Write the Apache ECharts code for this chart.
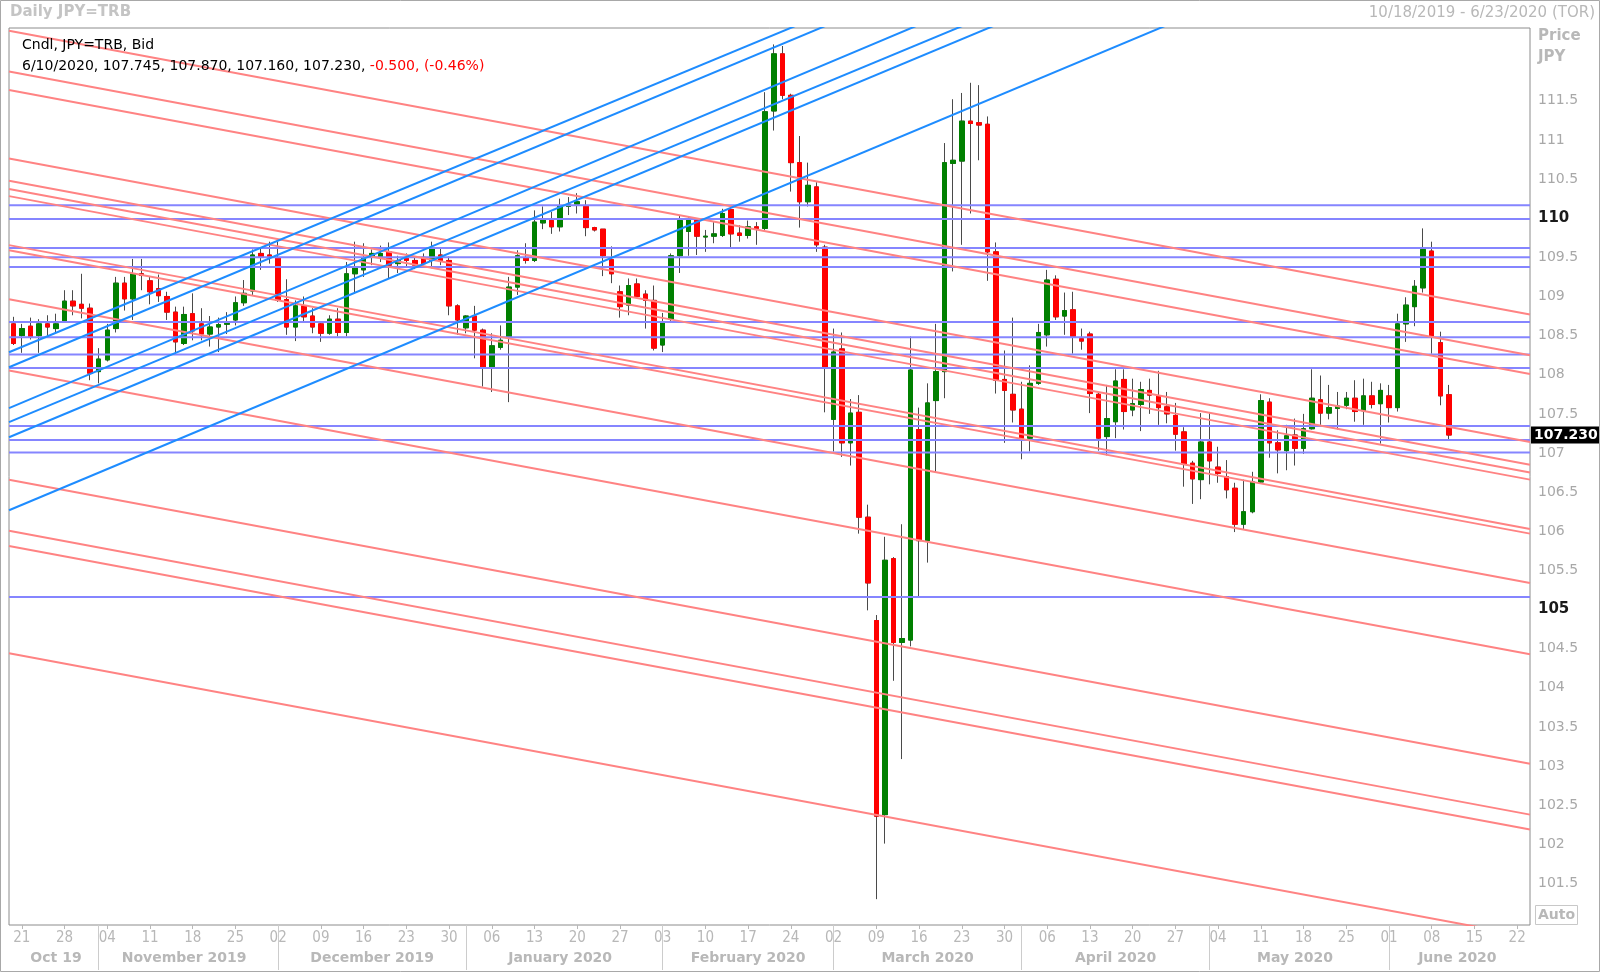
<!DOCTYPE html>
<html><head><meta charset="utf-8">
<script src="https://cdn.jsdelivr.net/npm/echarts/dist/echarts.min.js"></script>
<style>html,body{margin:0;padding:0;background:#fff}#c{width:1600px;height:972px}</style>
</head><body><div id="c"></div><script>
// ---- trading calendar (weekdays shown on the axis) ----
const calendar = [
 ['2019-10', [18,21,22,23,24,25,28,29,30,31]],
 ['2019-11', [1,4,5,6,7,8,11,12,13,14,15,18,19,20,21,22,25,26,27,28,29]],
 ['2019-12', [2,3,4,5,6,9,10,11,12,13,16,17,18,19,20,23,24,25,26,27,30,31]],
 ['2020-01', [1,2,3,6,7,8,9,10,13,14,15,16,17,20,21,22,23,24,27,28,29,30,31]],
 ['2020-02', [3,4,5,6,7,10,11,12,13,14,17,18,19,20,21,24,25,26,27,28]],
 ['2020-03', [2,3,4,5,6,9,10,11,12,13,16,17,18,19,20,23,24,25,26,27,30,31]],
 ['2020-04', [1,2,3,6,7,8,9,10,13,14,15,16,17,20,21,22,23,24,27,28,29,30]],
 ['2020-05', [1,4,5,6,7,8,11,12,13,14,15,18,19,20,21,22,25,26,27,28,29]],
 ['2020-06', [1,2,3,4,5,8,9,10,11,12,15,16,17,18,19,22,23]]
];
const monthNames = ['Oct 19','November 2019','December 2019','January 2020','February 2020','March 2020','April 2020','May 2020','June 2020'];

// ---- daily candles (USD/JPY) ----
const open = [108.65,108.50,108.62,108.50,108.65,108.59,108.69,108.94,108.90,108.85,
108.04,108.19,108.59,109.17,108.97,109.29,109.20,109.10,109.00,108.80,
108.40,108.78,108.65,108.52,108.61,108.645,108.70,108.92,109.07,109.55,
109.53,109.49,108.96,108.61,108.88,108.75,108.65,108.53,108.71,108.54,
109.29,109.34,109.50,109.51,109.57,109.42,109.50,109.46,109.50,109.46,
109.53,109.46,108.88,108.60,108.75,108.57,108.10,108.35,108.49,109.12,
109.49,109.46,109.94,109.97,109.89,110.15,110.18,110.15,109.88,109.86,
109.47,109.06,108.89,109.16,109.03,108.95,108.38,108.71,109.52,109.83,
109.98,109.76,109.77,109.78,110.11,109.81,109.78,109.89,109.87,111.37,
112.10,111.57,110.71,110.21,110.40,109.63,107.43,108.33,107.13,107.52,
106.18,104.86,102.38,105.65,104.58,104.61,107.30,105.88,107.67,108.04,
110.70,110.73,111.24,111.22,111.20,109.57,107.94,107.75,107.56,107.19,
107.89,108.51,109.22,108.75,108.83,108.46,108.52,107.75,107.21,107.40,
107.94,107.55,107.62,107.80,107.73,107.59,107.48,107.27,106.87,106.66,
107.14,106.82,106.70,106.55,106.09,106.25,106.63,107.65,107.13,107.03,
107.23,107.06,107.31,107.68,107.51,107.57,107.61,107.70,107.54,107.73,
107.63,107.73,107.58,108.65,108.87,109.11,109.58,108.41,107.745];
const close = [108.40,108.59,108.49,108.65,108.61,108.65,108.94,108.88,108.85,108.02,
108.20,108.57,109.17,108.97,109.29,109.27,109.06,109.01,108.80,108.42,
108.77,108.56,108.52,108.61,108.64,108.655,108.92,109.04,109.53,109.51,
109.50,108.95,108.61,108.88,108.74,108.61,108.53,108.71,108.54,109.29,
109.36,109.49,109.55,109.55,109.40,109.46,109.46,109.40,109.42,109.61,
109.46,108.88,108.70,108.75,108.57,108.10,108.37,108.44,109.12,109.52,
109.46,109.95,109.98,109.89,110.15,110.17,110.21,109.88,109.85,109.52,
109.29,108.87,109.14,109.00,108.95,108.34,108.68,109.52,109.97,109.98,
109.77,109.77,109.80,110.06,109.80,109.78,109.89,109.87,111.36,112.10,
111.57,110.71,110.21,110.42,109.66,108.10,108.29,107.13,107.51,106.18,
105.34,102.36,105.63,104.58,104.63,108.06,105.88,107.64,108.04,110.71,
110.74,111.24,111.21,111.19,109.57,107.93,107.80,107.55,107.19,107.89,
108.54,109.21,108.74,108.82,108.49,108.43,107.76,107.19,107.44,107.92,
107.53,107.63,107.81,107.74,107.58,107.50,107.24,106.86,106.67,107.14,
106.90,106.74,106.53,106.09,106.25,106.63,107.67,107.13,107.04,107.22,
107.06,107.31,107.70,107.51,107.58,107.60,107.70,107.53,107.73,107.62,
107.80,107.58,108.65,108.89,109.13,109.60,108.49,107.73,107.23];
const high = [108.74,108.65,108.73,108.71,108.76,108.78,109.08,109.08,109.29,108.91,
108.34,108.65,109.25,109.25,109.48,109.48,109.25,109.28,109.06,108.87,
108.87,109.04,108.85,108.75,108.73,108.80,109.00,109.21,109.60,109.61,
109.70,109.70,109.22,108.95,109.00,108.85,108.68,108.76,108.85,109.44,
109.70,109.68,109.60,109.65,109.69,109.52,109.55,109.50,109.55,109.70,
109.61,109.51,108.90,108.76,108.88,108.59,108.53,108.63,109.25,109.59,
109.68,110.10,110.15,110.08,110.25,110.27,110.32,110.23,109.89,109.86,
109.64,109.14,109.23,109.23,109.08,109.14,108.79,109.55,110.04,110.02,
110.00,109.85,109.95,110.12,110.15,109.91,109.97,109.95,111.61,112.22,
112.20,111.59,111.05,110.71,110.46,109.66,108.59,108.54,107.69,107.74,
106.34,104.93,105.93,105.67,106.09,108.49,107.58,107.89,108.65,110.96,
111.52,111.60,111.73,111.70,111.30,109.69,108.31,108.73,107.91,108.12,
108.65,109.34,109.27,109.05,109.06,108.59,108.55,107.78,107.87,108.07,
108.07,107.95,107.91,107.95,108.05,107.78,107.64,107.33,106.90,107.51,
107.51,107.08,106.91,106.62,106.66,106.76,107.75,107.70,107.29,107.36,
107.44,107.50,108.07,107.99,107.87,107.78,107.78,107.93,107.95,107.91,
107.89,107.87,108.78,108.99,109.21,109.87,109.70,108.55,107.87];
const low = [108.38,108.28,108.45,108.28,108.49,108.53,108.68,108.76,108.72,107.93,
107.89,108.17,108.54,108.82,108.70,109.08,108.90,108.93,108.70,108.27,
108.38,108.44,108.44,108.36,108.29,108.52,108.63,108.88,109.02,109.34,
109.42,108.93,108.51,108.43,108.68,108.53,108.42,108.51,108.49,108.49,
109.04,109.25,109.40,109.44,109.23,109.30,109.38,109.35,109.40,109.36,
109.40,108.76,108.51,108.53,108.21,107.85,107.78,108.32,107.65,109.02,
109.42,109.44,109.86,109.80,109.83,110.04,110.06,109.77,109.83,109.26,
109.17,108.73,108.76,109.00,108.59,108.31,108.29,108.68,109.30,109.52,
109.53,109.57,109.68,109.76,109.63,109.70,109.74,109.66,109.85,111.12,
111.52,110.34,109.88,110.15,109.57,107.52,107.02,106.95,106.84,105.97,
104.99,101.30,102.01,104.09,103.09,104.53,105.15,105.60,106.75,107.70,
109.32,109.66,110.06,110.74,109.20,107.76,107.13,107.39,106.92,107.02,
107.87,108.36,108.70,108.51,108.27,108.32,107.51,107.03,106.97,107.19,
107.30,107.47,107.28,107.50,107.36,107.38,107.03,106.57,106.35,106.41,
106.60,106.62,106.42,105.99,106.02,106.23,106.61,106.94,106.74,106.78,
106.84,106.99,107.30,107.36,107.43,107.30,107.56,107.40,107.36,107.57,
107.12,107.39,107.53,108.42,108.62,109.05,108.27,107.61,107.16];

// ---- drawn studies: horizontal levels and trend lines (value at left edge / right edge of axis) ----
const hLevels = [110.165, 109.99, 109.62, 109.50, 109.378, 108.675, 108.48, 108.258, 108.087, 107.346, 107.165, 107.007, 105.16];
const redLeft  = [112.394,111.873,111.638,110.764,110.478,110.373,110.282,109.656,109.591,108.965,108.053,106.658,106.006,105.811,104.441];
const redRight = [108.77, 108.25, 108.01, 107.14, 106.85, 106.75, 106.66, 106.03, 105.97, 105.34, 104.43, 103.03, 102.38, 102.19, 100.82];
const blueLeft  = [108.288,108.096,107.573,107.394,107.202,106.269];
const blueRight = [116.35, 116.22, 115.76, 115.47, 115.32, 114.41];

const yTicks = [101.5,102,102.5,103,103.5,104,104.5,105,105.5,106,106.5,107,107.5,108,108.5,109,109.5,110,110.5,111,111.5];
const lastPrice = 107.23;

// ---- derived structures ----
const dates = [];
const monthStartIdx = new Set();
const monthLabelAt = {};
calendar.forEach(([m, ds], k) => {
  const start = dates.length;
  ds.forEach(d => dates.push(m + '-' + String(d).padStart(2, '0')));
  if (k > 0) monthStartIdx.add(start);
  monthLabelAt[start + Math.ceil((ds.length - 1) / 2)] = monthNames[k];
});
const isMonday = v => new Date(v + 'T00:00:00Z').getUTCDay() === 1;
const nCat = dates.length;
const xL = -0.5, xR = nCat - 0.5;

const candles = open.map((o, i) => [o, close[i], low[i], high[i]]);
const bodies = open.map((o, i) => [o, close[i], Math.min(o, close[i]), Math.max(o, close[i])]);

const FONT = "'DejaVu Sans', Verdana, sans-serif";
const NARROW = "'DejaVu Sans Condensed', 'Liberation Sans Narrow', 'DejaVu Sans', sans-serif";

function seg(a, b, color, width) {
  return { type: 'line', xAxisIndex: 2, yAxisIndex: 0, data: [[xL, a], [xR, b]], symbol: 'none',
    silent: true, animation: false, clip: true, z: 4, lineStyle: { color: color, width: width } };
}
const lineSeries = [];
hLevels.forEach(v => lineSeries.push(seg(v, v, '#8585ff', 2)));
redLeft.forEach((v, i) => lineSeries.push(seg(v, redRight[i], '#ff8383', 2)));
blueLeft.forEach((v, i) => lineSeries.push(seg(v, blueRight[i], '#1e8cff', 2)));

// last-price tag on the price scale
lineSeries.push({ type: 'line', xAxisIndex: 2, yAxisIndex: 0, data: [[xL, lastPrice], [xR, lastPrice]], symbol: 'none',
  silent: true, animation: false, clip: false, z: 20, lineStyle: { color: 'rgba(0,0,0,0)', width: 0 },
  endLabel: { show: true, formatter: lastPrice.toFixed(3), distance: 1, backgroundColor: '#000', color: '#fff',
    fontWeight: 'bold', fontSize: 14, fontFamily: FONT, padding: [2, 3, 1, 3] } });

const li = open.length - 1;
const ohlcText = dates[li].slice(5, 7).replace(/^0/, '') + '/' + dates[li].slice(8) + '/' + dates[li].slice(0, 4) + ', ' +
  [open[li], high[li], low[li], close[li]].map(v => v.toFixed(3)).join(', ') + ', ';

const chart = echarts.init(document.getElementById('c'));
chart.setOption({
  animation: false,
  backgroundColor: '#fff',
  grid: { left: 9, top: 28, right: 70, bottom: 47, show: true, borderColor: '#8c8c8c', borderWidth: 1, backgroundColor: '#fff' },
  xAxis: [
    { type: 'category', data: dates, boundaryGap: true, axisLine: { show: false },
      axisTick: { show: true, alignWithLabel: true, interval: (i, v) => isMonday(v), length: 4, lineStyle: { color: '#b8b8b8' } },
      axisLabel: { interval: (i, v) => isMonday(v), formatter: v => v.slice(8), color: '#b8b8b8', fontSize: 15, fontFamily: NARROW, margin: 6 },
      splitLine: { show: false } },
    { type: 'category', data: dates, boundaryGap: true, position: 'bottom', axisLine: { show: false },
      axisTick: { show: true, alignWithLabel: true, interval: (i) => monthStartIdx.has(i), length: 45, lineStyle: { color: '#cccccc' } },
      axisLabel: { interval: (i) => monthLabelAt[i] !== undefined, formatter: (v, i) => monthLabelAt[i] || '', color: '#b8b8b8', fontSize: 14, fontWeight: 'bold', fontFamily: FONT, margin: 26 },
      splitLine: { show: false } },
    { type: 'value', min: xL, max: xR, show: false }
  ],
  yAxis: [{
    type: 'value', position: 'right', min: 100.97, max: 112.43,
    splitLine: { show: false }, axisLine: { show: false }, axisTick: { show: false },
    axisLabel: { customValues: yTicks, margin: 8,
      formatter: v => (v % 5 === 0 ? '{b|' + v + '}' : '{n|' + v + '}'),
      rich: { b: { color: '#1a1a1a', fontWeight: 'bold', fontSize: 15, fontFamily: FONT },
              n: { color: '#a8a8a8', fontSize: 14, fontFamily: FONT } } }
  }],
  series: [
    { type: 'candlestick', name: 'wick', data: candles, barWidth: 5, silent: true, z: 2,
      itemStyle: { color: 'rgba(0,0,0,0)', color0: 'rgba(0,0,0,0)', borderColor: '#4a4a4a', borderColor0: '#4a4a4a', borderWidth: 1 } },
    { type: 'candlestick', name: 'JPY=TRB', data: bodies, barWidth: 5, silent: true, z: 3,
      itemStyle: { color: '#008000', color0: '#ff0000', borderColor: '#008000', borderColor0: '#ff0000', borderWidth: 1 } }
  ].concat(lineSeries),
  graphic: [
    { type: 'rect', silent: true, z: 100, shape: { x: 0.5, y: 0.5, width: 1599, height: 971 }, style: { fill: 'none', stroke: '#a8a8a8', lineWidth: 1 } },
    { type: 'text', silent: true, z: 100, left: 10, top: 5, style: { text: 'Daily JPY=TRB', fill: '#c4c4c4', font: "bold 15px 'DejaVu Sans'" } },
    { type: 'text', silent: true, z: 100, right: 5, top: 6, style: { text: '10/18/2019 - 6/23/2020 (TOR)', fill: '#b8b8b8', font: "15px 'DejaVu Sans'" } },
    { type: 'text', silent: true, z: 100, left: 22, top: 38, style: { text: 'Cndl, JPY=TRB, Bid', fill: '#000', font: "14px 'DejaVu Sans'" } },
    { type: 'text', silent: true, z: 100, left: 22, top: 59, style: { text: '{k|' + ohlcText + '}{r|-0.500, (-0.46%)}', font: "14px 'DejaVu Sans'",
        rich: { k: { fill: '#000', font: "14px 'DejaVu Sans'" }, r: { fill: '#ff0000', font: "14px 'DejaVu Sans'" } } } },
    { type: 'text', silent: true, z: 100, left: 1538, top: 29, style: { text: 'Price', fill: '#b8b8b8', font: "bold 15px 'DejaVu Sans'" } },
    { type: 'text', silent: true, z: 100, left: 1538, top: 50, style: { text: 'JPY', fill: '#b8b8b8', font: "bold 15px 'DejaVu Sans'" } },
    { type: 'rect', silent: true, z: 100, shape: { x: 1535.5, y: 905.5, width: 42, height: 19 }, style: { fill: '#fff', stroke: '#c8c8c8' } },
    { type: 'text', silent: true, z: 101, x: 1556.5, y: 915, style: { text: 'Auto', fill: '#b8b8b8', font: "bold 14px 'DejaVu Sans'", align: 'center', verticalAlign: 'middle' } }
  ]
});
</script></body></html>
